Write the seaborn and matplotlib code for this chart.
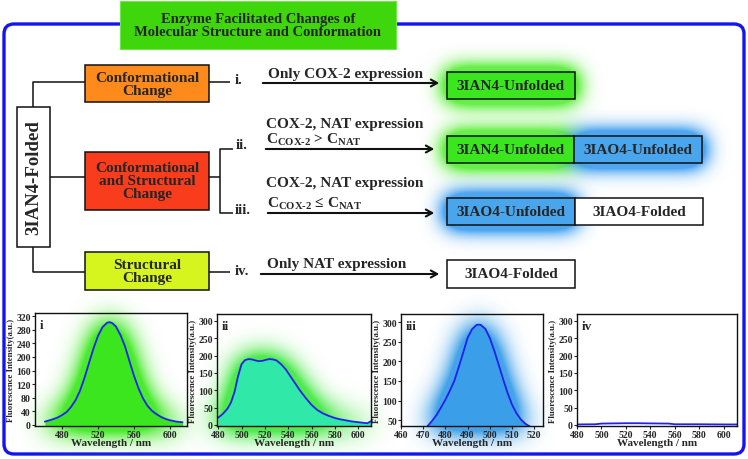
import numpy as np
import pandas as pd
import matplotlib
matplotlib.use("Agg")
import matplotlib.pyplot as plt
from matplotlib.patches import FancyBboxPatch, Rectangle
from matplotlib.colors import to_rgb
import seaborn as sns

# spectra
wl_i = [461, 465, 470, 475, 480, 485, 490, 495, 500, 505, 510, 515, 520, 525, 530, 533,
        536, 540, 545, 550, 555, 560, 565, 570, 575, 580, 585, 590, 595, 600, 607, 614]
fl_i = [9, 12, 16, 21, 28, 37, 52, 72, 100, 138, 182, 225, 262, 288, 301, 303,
        300, 290, 265, 232, 188, 145, 108, 78, 56, 41, 31, 23, 17, 13, 9, 7]

wl_ii = [480, 484, 488, 491, 494, 497, 500, 503, 506, 509, 512, 515, 518, 521, 524, 527,
         530, 534, 538, 542, 546, 550, 555, 560, 565, 570, 575, 580, 585, 590, 595, 600,
         605, 608, 611]
fl_ii = [21, 32, 47, 65, 95, 140, 175, 187, 190, 189, 186, 184, 185, 188, 190, 189,
         186, 175, 160, 140, 120, 100, 78, 58, 43, 33, 26, 20, 16, 13, 10, 8,
         6, 5, 11]

wl_iii = [472, 474, 476, 478, 480, 482, 484, 486, 488, 490, 492, 494, 495, 496, 498, 500,
          502, 504, 506, 508, 510, 512, 514, 516, 518]
fl_iii = [35, 48, 63, 82, 102, 125, 150, 185, 222, 260, 282, 293, 294, 293, 283, 260,
          228, 192, 155, 120, 90, 68, 52, 41, 34]

wl_iv = [480, 495, 500, 510, 520, 530, 540, 555, 560, 580, 600, 611]
fl_iv = [1.5, 2, 4, 4.5, 5, 5, 4.5, 4, 2, 2, 1.5, 1.5]

panel_labels = ["i", "ii", "iii", "iv"]
x_ticks = [[480, 520, 560, 600], list(range(480, 601, 20)),
           list(range(460, 521, 10)), list(range(480, 601, 20))]
y_ticks = [list(range(0, 321, 40)), list(range(0, 301, 50)),
           list(range(50, 301, 50)), list(range(0, 301, 50))]

sns.set_style("white")
plt.rcParams["font.family"] = ["Liberation Serif", "DejaVu Serif"]
plt.rcParams["font.weight"] = "bold"
plt.rcParams["mathtext.fontset"] = "custom"
plt.rcParams["mathtext.rm"] = "Liberation Serif:bold"
plt.rcParams["mathtext.bf"] = "Liberation Serif:bold"
plt.rcParams["mathtext.it"] = "Liberation Serif:bold"

W, H = 748, 460
fig = plt.figure(figsize=(W / 100, H / 100), dpi=100)
bg = fig.add_axes([0, 0, 1, 1])
bg.set_xlim(0, W)
bg.set_ylim(H, 0)
bg.axis("off")

GREEN = "#3ce61e"
BLUE = "#4aa6ec"
LW = 1.1


def blur(a, s):
    r = int(3 * s)
    x = np.arange(-r, r + 1)
    kern = np.exp(-x ** 2 / (2.0 * s * s))
    kern /= kern.sum()
    a = np.apply_along_axis(lambda v: np.convolve(v, kern, mode="same"), 0, a)
    a = np.apply_along_axis(lambda v: np.convolve(v, kern, mode="same"), 1, a)
    return a


def box(x0, y0, x1, y1, fc, text, fs=11):
    bg.add_patch(Rectangle((x0, y0), x1 - x0, y1 - y0, fc=fc, ec="#111111", lw=LW, zorder=3))
    bg.text((x0 + x1) / 2, (y0 + y1) / 2, text, ha="center", va="center",
            fontsize=fs, fontweight="bold", zorder=4, linespacing=1.0)


# glow behind the coloured result boxes
gm = np.zeros((H, W))
bm = np.zeros((H, W))
for x0, y0, x1, y1 in [(447, 73, 575, 100), (447, 137, 574, 164)]:
    gm[y0:y1, x0:x1] = 1
for x0, y0, x1, y1 in [(574, 137, 702, 164), (447, 199, 575, 226)]:
    bm[y0:y1, x0:x1] = 1
ag = np.clip(blur(gm, 11) * 3.2, 0, 1) * 0.9
ab = np.clip(blur(bm, 11) * 3.2, 0, 1) * 0.9
cg = np.array(to_rgb("#55ee33"))
cb = np.array(to_rgb("#3a9cf0"))
aout = ab + ag * (1 - ab)
rgb = (cb[None, None, :] * ab[..., None] + cg[None, None, :] * (ag * (1 - ab))[..., None]) \
    / np.maximum(aout, 1e-6)[..., None]
bg.imshow(np.dstack([rgb, aout]), extent=(0, W, H, 0), origin="upper",
          interpolation="bilinear", zorder=1, aspect="auto")
bg.set_xlim(0, W)
bg.set_ylim(H, 0)

# outer frame
bg.add_patch(FancyBboxPatch((4, 25), 740, 430, boxstyle="round,pad=0,rounding_size=10",
                            fc="none", ec="#1414f0", lw=2.4, zorder=2))
# title
bg.add_patch(Rectangle((120, 2), 276, 48, fc="#3fd60c", ec="#6fe84a", lw=0.8, zorder=3))
bg.text(258, 26, "Enzyme Facilitated Changes of\nMolecular Structure and Conformation",
        ha="center", va="center", fontsize=10.5, fontweight="bold", linespacing=1.1, zorder=4)

# tree
k = dict(color="#111111", lw=LW, zorder=2, solid_capstyle="butt")
bg.plot([33, 33, 85], [108, 83, 83], **k)
bg.plot([33, 33, 85], [248, 273, 273], **k)
bg.plot([50, 85], [178, 178], **k)
bg.add_patch(Rectangle((17, 108), 33, 140, fc="white", ec="#111111", lw=LW, zorder=3))
bg.text(33.5, 178, "3IAN4-Folded", rotation=90, ha="center", va="center",
        fontsize=13.5, fontweight="bold", zorder=4)

box(85, 66, 209, 103, "#ff8a1c", "Conformational\nChange")
box(85, 153, 209, 211, "#f83c1c", "Conformational\nand Structural\nChange")
box(85, 253, 209, 291, "#d6f51e", "Structural\nChange")

bg.plot([209, 230], [83, 83], **k)
bg.plot([209, 220], [178, 178], **k)
bg.plot([233, 220, 220, 233], [150, 150, 214, 214], **k)
bg.plot([209, 230], [273, 273], **k)

for x, y, s in [(235, 81, "i."), (236, 146, "ii."), (235, 211, "iii."), (235, 272, "iv.")]:
    bg.text(x, y, s, ha="left", va="center", fontsize=10.5, fontweight="bold")

arr = dict(arrowstyle="->,head_length=0.45,head_width=0.25", lw=1.5, color="#111111")
for x0, x1, y in [(260, 442, 84), (263, 437, 150), (265, 437, 214), (258, 442, 275)]:
    bg.annotate("", xy=(x1, y), xytext=(x0, y), arrowprops=arr)

tk = dict(ha="left", va="bottom", fontsize=11, fontweight="bold")
bg.text(268, 81, "Only COX-2 expression", **tk)
bg.text(266, 131, "COX-2, NAT expression", **tk)
bg.text(266, 148, r"C$_{\mathrm{COX\text{-}2}}$ > C$_{\mathrm{NAT}}$", **tk)
bg.text(266, 190, "COX-2, NAT expression", **tk)
bg.text(267, 212, r"C$_{\mathrm{COX\text{-}2}}$ ≤ C$_{\mathrm{NAT}}$", **tk)
bg.text(267, 271, "Only NAT expression", **tk)

# result boxes
box(447, 73, 575, 100, GREEN, "3IAN4-Unfolded")
box(447, 137, 574, 164, GREEN, "3IAN4-Unfolded")
box(574, 137, 702, 164, BLUE, "3IAO4-Unfolded")
box(447, 199, 575, 226, BLUE, "3IAO4-Unfolded")
box(575, 199, 703, 226, "white", "3IAO4-Folded")
box(447, 261, 575, 289, "white", "3IAO4-Folded")

# spectra panels
rects = [(35, 314, 187, 427), (217, 315, 371, 427), (401, 315, 543, 427), (577, 315, 737, 427)]
xlims = [(450, 619), (479, 611), (460, 524), (480, 611)]
ylims = [(-4, 330), (-3, 320), (35, 321), (-3, 320)]
fills = [GREEN, "#30e8a8", "#3a9ee8", None]
glows = ["#40ea22", "#44ea44", "#3a9ee8", None]
data = [(wl_i, fl_i), (wl_ii, fl_ii), (wl_iii, fl_iii), (wl_iv, fl_iv)]

M = 50
for n in range(4):
    l, t, r, b = rects[n]
    w, h = r - l, b - t
    ax = fig.add_axes([l / W, 1 - b / H, w / W, h / H])
    ax.set_facecolor("white")
    ax.set_axisbelow(False)
    wl, fl = data[n]
    df = pd.DataFrame({"wl": wl, "fl": fl})
    xa, xb = xlims[n]
    ya, yb = ylims[n]
    if glows[n]:
        dx = (xb - xa) / w
        dy = (yb - ya) / h
        gx = xa + (np.arange(w + 2 * M) - M + 0.5) * dx
        gy = ya + (np.arange(h + 2 * M) - M + 0.5) * dy
        top = np.interp(gx, df.wl, df.fl, left=-1e9, right=-1e9)
        mask = ((gy[:, None] <= top[None, :]) & (gy[:, None] >= ya)).astype(float)
        al = np.clip(blur(mask, 14) * 2.8, 0, 1) * 0.95
        img = np.dstack([np.ones_like(al) * c for c in to_rgb(glows[n])] + [al])
        ax.imshow(img, origin="lower", aspect="auto", interpolation="bilinear",
                  extent=(xa - M * dx, xb + M * dx, ya - M * dy, yb + M * dy),
                  clip_on=False, zorder=0.1)
        ax.fill_between(df.wl, df.fl, ya, color=fills[n], lw=0, zorder=0.3)
    sns.lineplot(data=df, x="wl", y="fl", ax=ax, color="#2020f0", lw=1.3, zorder=3)
    ax.set_xlim(xa, xb)
    ax.set_ylim(ya, yb)
    ax.set_xticks(x_ticks[n])
    ax.set_yticks(y_ticks[n])
    ax.tick_params(labelsize=7, length=2, width=0.8, pad=1, direction="out",
                   bottom=True, left=True)
    for s in ax.spines.values():
        s.set_linewidth(1.0)
        s.set_color("#111111")
        s.set_zorder(5)
    ax.set_xlabel("Wavelength / nm", fontsize=8, fontweight="bold", labelpad=-1)
    ax.set_ylabel("Fluorescence Intensity(a.u.)", fontsize=6.3, fontweight="bold", labelpad=1)
    ax.text(0.03, 0.95, panel_labels[n], transform=ax.transAxes, ha="left", va="top",
            fontsize=9.5, fontweight="bold", zorder=6)

fig.savefig("out.png", dpi=100)
